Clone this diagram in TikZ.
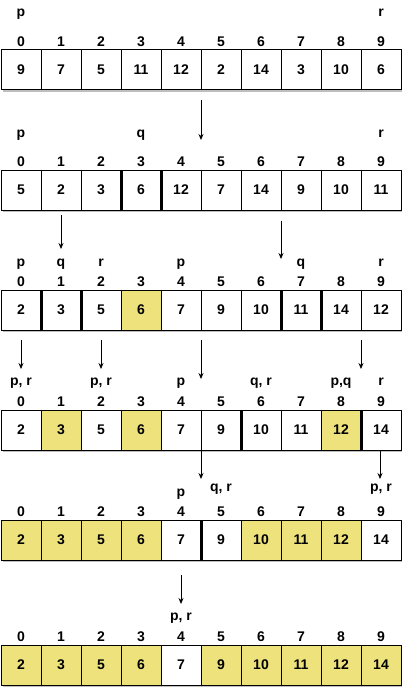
\documentclass[tikz,border=0pt]{standalone}
\usepackage{fontspec}
\setmainfont{Liberation Sans}
\usetikzlibrary{arrows.meta}
\definecolor{hl}{RGB}{238,226,124}
\definecolor{shad}{RGB}{190,190,190}
\tikzset{
  cellbox/.style={draw=black, line width=1pt, minimum width=40pt, minimum height=40pt,
    inner sep=0pt, outer sep=0pt, font=\bfseries\fontsize{14}{16}\selectfont},
  yel/.style={cellbox, fill=hl},
  wht/.style={cellbox, fill=white},
  lbl/.style={font=\bfseries\fontsize{14}{16}\selectfont, inner sep=0pt, anchor=base},
  sepline/.style={line width=3pt},
  arr/.style={-{Stealth[length=6pt,width=5pt]}, line width=0.8pt},
  shadowbar/.style={fill=shad}
}
\begin{document}
\begin{tikzpicture}[x=1pt,y=-1pt]
\useasboundingbox (0,0) rectangle (403,690);
% shadows
\foreach \b in {90,210,330,450,560,685}{
  \fill[shadowbar] (3,\b) rectangle (402,\b+2);
}
% row 1
\foreach \v/\s [count=\i from 0] in {9/wht,7/wht,5/wht,11/wht,12/wht,2/wht,14/wht,3/wht,10/wht,6/wht}{
  \node[\s] (a\i) at (21+40*\i,70) {\v};
  \node[lbl] (ai\i) at (21+40*\i,47) {\i};
}
\node[lbl] (ap) at (21,17) {p};
\node[lbl] (ar) at (381,17) {r};
% row 2
\foreach \v/\s [count=\i from 0] in {5/wht,2/wht,3/wht,6/wht,12/wht,7/wht,14/wht,9/wht,10/wht,11/wht}{
  \node[\s] (b\i) at (21+40*\i,190) {\v};
  \node[lbl] (bi\i) at (21+40*\i,166) {\i};
}
\node[lbl] (bp) at (21,137) {p};
\node[lbl] (bq) at (141,137) {q};
\node[lbl] (br) at (381,137) {r};
\draw[sepline] (b3.north west) -- (b3.south west);
\draw[sepline] (b3.north east) -- (b3.south east);
% row 3
\foreach \v/\s [count=\i from 0] in {2/wht,3/wht,5/wht,6/yel,7/wht,9/wht,10/wht,11/wht,14/wht,12/wht}{
  \node[\s] (c\i) at (21+40*\i,310) {\v};
  \node[lbl] (ci\i) at (21+40*\i,286) {\i};
}
\node[lbl] (cp1) at (21,266) {p};
\node[lbl] (cq1) at (61,266) {q};
\node[lbl] (cr1) at (101,266) {r};
\node[lbl] (cp2) at (181,266) {p};
\node[lbl] (cq2) at (301,266) {q};
\node[lbl] (cr2) at (381,266) {r};
\draw[sepline] (c1.north west) -- (c1.south west);
\draw[sepline] (c1.north east) -- (c1.south east);
\draw[sepline] (c7.north west) -- (c7.south west);
\draw[sepline] (c7.north east) -- (c7.south east);
% row 4
\foreach \v/\s [count=\i from 0] in {2/wht,3/yel,5/wht,6/yel,7/wht,9/wht,10/wht,11/wht,12/yel,14/wht}{
  \node[\s] (d\i) at (21+40*\i,430) {\v};
  \node[lbl] (di\i) at (21+40*\i,406) {\i};
}
\node[lbl] (dl0) at (21,385) {p, r};
\node[lbl] (dl2) at (101,385) {p, r};
\node[lbl] (dl4) at (181,385) {p};
\node[lbl] (dl6) at (261,385) {q, r};
\node[lbl] (dl8) at (341,385) {p,q};
\node[lbl] (dl9) at (381,385) {r};
\draw[sepline] (d6.north west) -- (d6.south west);
\draw[sepline] (d8.north east) -- (d8.south east);
% row 5
\foreach \v/\s [count=\i from 0] in {2/yel,3/yel,5/yel,6/yel,7/wht,9/wht,10/yel,11/yel,12/yel,14/wht}{
  \node[\s] (e\i) at (21+40*\i,540) {\v};
  \node[lbl] (ei\i) at (21+40*\i,516) {\i};
}
\node[lbl] (el4) at (181,496) {p};
\node[lbl] (el5) at (221,491) {q, r};
\node[lbl] (el9) at (381,491) {p, r};
\draw[sepline] (e5.north west) -- (e5.south west);
% row 6
\foreach \v/\s [count=\i from 0] in {2/yel,3/yel,5/yel,6/yel,7/wht,9/yel,10/yel,11/yel,12/yel,14/yel}{
  \node[\s] (f\i) at (21+40*\i,665) {\v};
  \node[lbl] (fi\i) at (21+40*\i,641) {\i};
}
\node[lbl] (fl4) at (181,620) {p, r};
% arrows
\coordinate (s1) at (201,100); \coordinate (t1) at (201,140);
\coordinate (s2) at (61,215);  \coordinate (t2) at (61,249);
\coordinate (s3) at (281,221); \coordinate (t3) at (281,259);
\coordinate (s4) at (21,340);  \coordinate (t4) at (21,369);
\coordinate (s5) at (101,340); \coordinate (t5) at (101,369);
\coordinate (s6) at (201,340); \coordinate (t6) at (201,379);
\coordinate (s7) at (361,340); \coordinate (t7) at (361,369);
\coordinate (s8) at (201,450); \coordinate (t8) at (201,479);
\coordinate (s9) at (380,450); \coordinate (t9) at (380,479);
\coordinate (s10) at (181,575); \coordinate (t10) at (181,604);
\foreach \k in {1,...,10}{ \draw[arr] (s\k) -- (t\k); }
\end{tikzpicture}
\end{document}
